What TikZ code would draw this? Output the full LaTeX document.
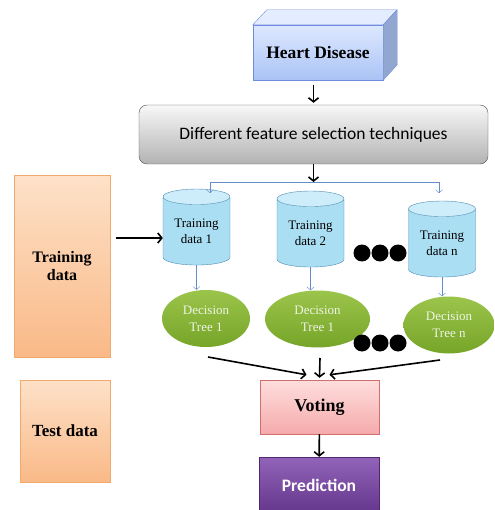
\documentclass[tikz,border=0pt]{standalone}
\usepackage{fontspec}
\setmainfont{Liberation Serif}
\newfontfamily\calibri{Carlito}
\usetikzlibrary{arrows.meta,shapes}
\definecolor{hdline}{RGB}{110,140,220}
\definecolor{hdtop}{RGB}{222,232,255}
\definecolor{hdbot}{RGB}{170,195,245}
\definecolor{cylline}{RGB}{80,140,180}
\definecolor{cylbody}{RGB}{170,222,242}
\definecolor{cyltop}{RGB}{205,237,250}
\definecolor{orline}{RGB}{240,170,110}
\definecolor{ortop}{RGB}{253,225,200}
\definecolor{orbot}{RGB}{250,185,135}
\definecolor{leaf}{RGB}{118,165,40}
\definecolor{leaftop}{RGB}{155,196,75}
\definecolor{vline}{RGB}{210,110,110}
\definecolor{vtop}{RGB}{255,222,222}
\definecolor{vbot}{RGB}{245,170,170}
\definecolor{pline}{RGB}{80,40,110}
\definecolor{ptop}{RGB}{145,100,185}
\definecolor{pbot}{RGB}{100,55,140}
\definecolor{thin}{RGB}{100,140,200}
\tikzstyle{edge}=[draw,line width=1.6pt,-{Straight Barb[length=4pt,width=10pt]}]
\tikzstyle{thin edge}=[draw,thin,color=thin,-{Straight Barb[length=3pt,width=7pt]}]
\tikzstyle{block}=[rectangle,inner sep=0pt,align=center]
\tikzstyle{side block}=[block,draw=orline,top color=ortop,bottom color=orbot,font=\fontsize{16}{18}\selectfont\bfseries]
\tikzstyle{store}=[cylinder,shape border rotate=90,aspect=0.35,draw=cylline,cylinder uses custom fill,cylinder body fill=cylbody,cylinder end fill=cyltop,minimum width=67pt,minimum height=76pt,inner sep=0pt,align=center,font=\fontsize{13}{16}\selectfont]
\tikzstyle{tree}=[ellipse,top color=leaftop,bottom color=leaf,minimum height=57pt,inner sep=0pt,align=center,text=white!88!leaf,font=\fontsize{13}{17}\selectfont]
\tikzstyle{dot}=[circle,fill=black,minimum size=17pt,inner sep=0pt]

\begin{document}
\begin{tikzpicture}[x=1pt,y=-1pt]
        \useasboundingbox (0,0) rectangle (494,510);
        % top of the flow
        \node[block,draw=hdline,top color=hdtop,bottom color=hdbot,minimum width=130pt,minimum height=55pt,font=\fontsize{17.5}{19}\selectfont\bfseries] (hd) at (318,52.5) {Heart Disease};
        \fill[hdtop!80!white,draw=hdline] (hd.north west) -- ++(14,-15) -- ++(130,0) -- (hd.north east) -- cycle;
        \fill[hdbot!85!black,draw=hdline] (hd.north east) -- ++(14,-15) -- ++(0,55) -- (hd.south east) -- cycle;
        \node[block,draw=black!70,rounded corners=8pt,top color=black!3,bottom color=black!30,minimum width=349pt,minimum height=59pt,font=\calibri\fontsize{17.5}{19}\selectfont] (fs) at (313.5,134.5) {Different feature selection techniques};
        \coordinate (split) at (313.5,182);
        \coordinate (a1) at (210,193);
        \coordinate (a3) at (439,193);
        % left side
        \node[side block,minimum width=96pt,minimum height=182pt] (train) at (62,266.5) {Training\\data};
        \node[side block,minimum width=90pt,minimum height=102pt,font=\fontsize{17}{19}\selectfont\bfseries] (test) at (65,431) {Test data};
        \coordinate (tin) at (116,238);
        % bagging
        \node[store] (td1) at (196.5,231) {Training\\data 1};
        \node[store] (td2) at (310.5,233) {Training\\data 2};
        \node[store] (td3) at (442,243) {Training\\data n};
        \node[tree,minimum width=88pt] (dt1) at (206,318.5) {Decision\\Tree 1};
        \node[tree,minimum width=105pt] (dt2) at (317.5,319) {Decision\\Tree 1};
        \node[tree,minimum width=91pt] (dt3) at (449,325) {Decision\\Tree n};
        \foreach \x in {362,380,398} {
          \node[dot] at (\x,253) {};
          \node[dot] at (\x,343) {};
        }
        % voting
        \node[block,draw=vline,top color=vtop,bottom color=vbot,minimum width=119pt,minimum height=54pt,font=\fontsize{18}{20}\selectfont\bfseries] (vote) at (319.5,407) {Voting};
        \node[block,draw=pline,top color=ptop,bottom color=pbot,minimum width=120pt,minimum height=56pt,text=white,font=\calibri\fontsize{17.5}{20}\selectfont\bfseries] (pred) at (319,485) {Prediction};
        \coordinate (l1) at (208,357);
        \coordinate (l2) at (320,358);
        \coordinate (l3) at (440,360);
        \draw[edge] (hd.south -| fs.north) ++(0,5) -- ([yshift=2pt]fs.north);
        \draw[edge] (fs) -- (split);
        \draw[thin edge] (split) -| (a1);
        \draw[thin edge] (split) -| (a3);
        \draw[edge] (tin) -- (td1.west |- tin);
        \draw[thin edge] (td1) -- (td1 |- dt1.north);
        \draw[thin edge] (td2) -- (td2 |- dt2.north);
        \draw[thin edge] (td3) -- (td3 |- dt3.north);
        \draw[edge] (l1) -- ([xshift=-13pt,yshift=5pt]vote.north);
        \draw[edge] (l2) -- ([yshift=2pt]vote.north);
        \draw[edge] (l3) -- ([xshift=10pt,yshift=5pt]vote.north);
        \draw[edge] (vote) -- (pred);
      \end{tikzpicture}
\end{document}
